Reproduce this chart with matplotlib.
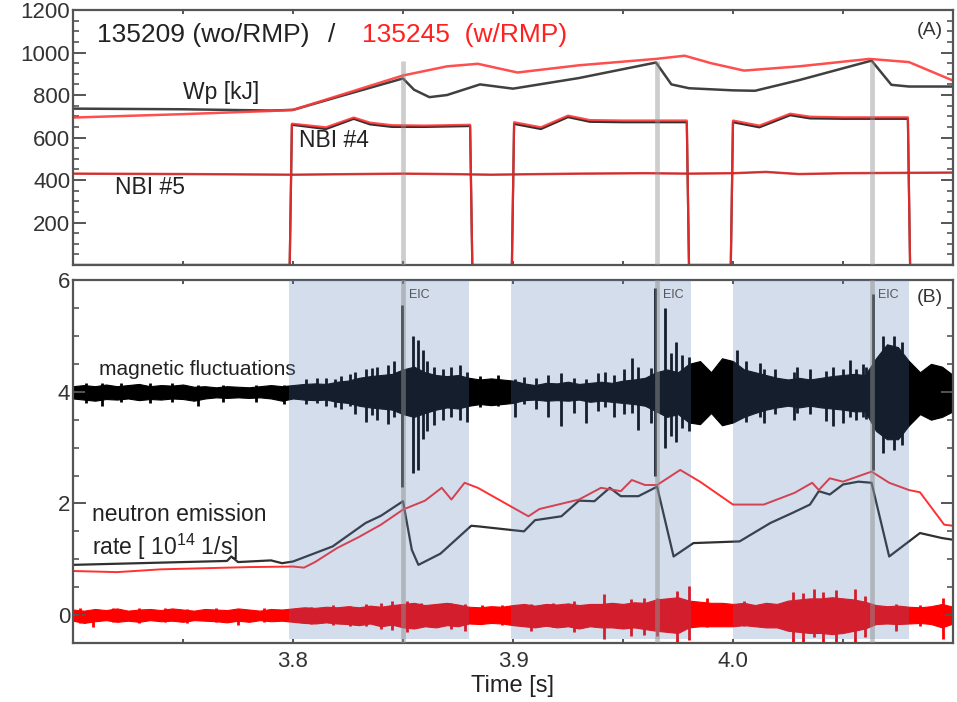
import matplotlib.pyplot as plt

plt.rcParams['font.family'] = ['Liberation Sans', 'DejaVu Sans']
plt.rcParams['mathtext.fontset'] = 'custom'
plt.rcParams['mathtext.rm'] = 'Liberation Sans'

# ---- panel (A): stored energy and NBI power ----
wp_wo_t = [3.70, 3.75, 3.79, 3.80, 3.82, 3.85, 3.855, 3.862, 3.87, 3.885, 3.90, 3.93,
           3.965, 3.972, 3.98, 4.00, 4.01, 4.03, 4.063, 4.072, 4.08, 4.10]
wp_wo = [736, 733, 727, 730, 790, 878, 825, 790, 800, 850, 830, 880,
         953, 850, 832, 822, 820, 870, 962, 848, 840, 840]

wp_w_t = [3.70, 3.75, 3.79, 3.80, 3.85, 3.87, 3.884, 3.902, 3.93, 3.965, 3.978,
          3.99, 4.005, 4.03, 4.062, 4.08, 4.10]
wp_w = [694, 710, 725, 730, 892, 935, 947, 906, 940, 970, 985,
        950, 915, 935, 970, 955, 868]

nbi4_t = [3.70, 3.7985, 3.7995, 3.815, 3.8276, 3.835, 3.845, 3.86, 3.8805, 3.8815,
          3.8995, 3.9005, 3.9127, 3.925, 3.935, 3.95, 3.979, 3.980,
          3.9990, 4.0000, 4.012, 4.026, 4.035, 4.05, 4.0795, 4.0805, 4.10]
nbi4_w = [0, 0, 665, 648, 694, 670, 658, 656, 660, 0,
          0, 672, 648, 703, 682, 680, 680, 0,
          0, 680, 656, 712, 698, 695, 695, 0, 0]
nbi4_wo = [0, 0, 660, 640, 688, 662, 650, 650, 654, 0,
           0, 664, 640, 696, 674, 672, 672, 0,
           0, 672, 648, 705, 690, 688, 688, 0, 0]

nbi5_t = [3.70, 3.75, 3.80, 3.85, 3.87, 3.89, 3.93, 3.96, 3.98, 4.00, 4.015, 4.03, 4.05, 4.10]
nbi5_w = [430, 428, 425, 430, 428, 425, 430, 432, 430, 432, 438, 428, 432, 435]

# ---- panel (B): fluctuations and neutron rate ----
neut_wo_t = [3.70, 3.72, 3.75, 3.77, 3.772, 3.775, 3.79, 3.795, 3.80, 3.818, 3.833, 3.84,
             3.85, 3.854, 3.857, 3.867, 3.881, 3.884, 3.905, 3.91, 3.922, 3.93, 3.937,
             3.944, 3.949, 3.957, 3.9655, 3.973, 3.982, 4.003, 4.017, 4.027, 4.035,
             4.039, 4.044, 4.05, 4.057, 4.063, 4.071, 4.085, 4.095, 4.10]
neut_wo = [0.90, 0.92, 0.95, 0.97, 1.05, 0.95, 0.98, 0.93, 0.96, 1.23, 1.65, 1.78,
           2.04, 1.17, 0.90, 1.10, 1.60, 1.59, 1.50, 1.70, 1.77, 2.05, 2.04,
           2.28, 2.13, 2.13, 2.30, 1.05, 1.29, 1.32, 1.65, 1.83, 1.98,
           2.22, 2.16, 2.34, 2.39, 2.37, 1.05, 1.47, 1.38, 1.35]

neut_w_t = [3.70, 3.72, 3.74, 3.76, 3.78, 3.80, 3.805, 3.81, 3.82, 3.83, 3.84, 3.85,
            3.86, 3.8676, 3.872, 3.878, 3.884, 3.907, 3.912, 3.93, 3.94, 3.949, 3.954,
            3.96, 3.9655, 3.976, 3.985, 4.00, 4.014, 4.028, 4.036, 4.039, 4.044, 4.05,
            4.063, 4.071, 4.08, 4.085, 4.096, 4.10]
neut_w = [0.79, 0.77, 0.82, 0.84, 0.86, 0.87, 0.85, 0.95, 1.20, 1.40, 1.62, 1.89,
          2.05, 2.28, 2.07, 2.37, 2.28, 1.77, 1.90, 2.07, 2.28, 2.22, 2.42,
          2.33, 2.33, 2.60, 2.39, 1.98, 1.98, 2.19, 2.37, 2.24, 2.45, 2.39,
          2.57, 2.37, 2.24, 2.20, 1.62, 1.60]

# magnetic fluctuation envelope (135209), every 5 ms from 3.700 s
mag_t = [3.700 + 0.005 * i for i in range(81)]
mag_hi = [4.10, 4.12, 4.10, 4.13, 4.10, 4.12, 4.14, 4.10, 4.12, 4.11,
          4.13, 4.09, 4.10, 4.08, 4.10, 4.09, 4.08, 4.10, 4.12, 4.10,
          4.12, 4.14, 4.15, 4.14, 4.18, 4.20, 4.25, 4.28, 4.30, 4.32,
          4.40, 4.45, 4.35, 4.30, 4.28, 4.30, 4.25, 4.22, 4.24, 4.22,
          4.20, 4.15, 4.12, 4.16, 4.15, 4.18, 4.14, 4.16, 4.18, 4.16,
          4.20, 4.22, 4.25, 4.35, 4.40, 4.35, 4.50, 4.55, 4.35, 4.60,
          4.55, 4.40, 4.35, 4.30, 4.25, 4.22, 4.25, 4.22, 4.25, 4.28,
          4.30, 4.32, 4.30, 4.60, 4.85, 4.80, 4.55, 4.35, 4.50, 4.45, 4.30]
mag_lo = [3.88, 3.86, 3.84, 3.87, 3.86, 3.88, 3.85, 3.87, 3.86, 3.88,
          3.87, 3.84, 3.88, 3.90, 3.89, 3.90, 3.89, 3.90, 3.88, 3.84,
          3.88, 3.86, 3.85, 3.86, 3.82, 3.80, 3.75, 3.72, 3.70, 3.68,
          3.60, 3.55, 3.62, 3.68, 3.72, 3.70, 3.75, 3.78, 3.76, 3.78,
          3.80, 3.85, 3.86, 3.84, 3.85, 3.84, 3.86, 3.82, 3.84, 3.82,
          3.80, 3.78, 3.75, 3.65, 3.55, 3.60, 3.45, 3.42, 3.62, 3.40,
          3.45, 3.55, 3.62, 3.68, 3.72, 3.75, 3.72, 3.75, 3.72, 3.70,
          3.68, 3.65, 3.65, 3.30, 3.15, 3.15, 3.40, 3.60, 3.50, 3.55, 3.65]

mag_spike_t = [3.706, 3.713, 3.722, 3.735, 3.745, 3.757, 3.768, 3.783, 3.796,
               3.806, 3.811, 3.815, 3.819, 3.822, 3.826, 3.828, 3.833, 3.836, 3.838,
               3.843, 3.846, 3.8495, 3.8545, 3.857, 3.859, 3.861, 3.864, 3.868, 3.872,
               3.876, 3.879, 3.885, 3.893,
               3.9008, 3.905, 3.9105, 3.9158, 3.9219, 3.9279, 3.9332, 3.9385, 3.942,
               3.946, 3.9505, 3.954, 3.9566, 3.9626,
               3.9645, 3.969, 3.972, 3.974, 3.977, 3.980,
               4.0018, 4.006, 4.0124, 4.0139, 4.019, 4.0276, 4.029, 4.035, 4.0425,
               4.0456, 4.0501, 4.0531, 4.0561, 4.0591, 4.0606,
               4.0635, 4.068, 4.073, 4.077]
mag_spike_hi = [4.15, 4.15, 4.16, 4.15, 4.15, 4.12, 4.12, 4.12, 4.12,
                4.22, 4.25, 4.25, 4.22, 4.28, 4.32, 4.35, 4.40, 4.42, 4.45,
                4.48, 4.55, 5.55, 5.00, 4.92, 4.75, 4.55, 4.45, 4.40, 4.45,
                4.48, 4.35, 4.28, 4.30,
                4.22, 4.27, 4.25, 4.30, 4.33, 4.25, 4.22, 4.33, 4.35,
                4.30, 4.40, 4.60, 4.45, 4.42,
                5.85, 5.50, 4.70, 4.90, 4.65, 4.62,
                4.74, 4.55, 4.51, 4.40, 4.40, 4.35, 4.45, 4.40, 4.38,
                4.45, 4.40, 4.57, 4.40, 4.50, 4.45,
                5.75, 5.00, 5.00, 4.90]
mag_spike_lo = [3.80, 3.75, 3.82, 3.80, 3.82, 3.75, 3.82, 3.82, 3.78,
                3.78, 3.80, 3.75, 3.72, 3.70, 3.74, 3.60, 3.45, 3.58, 3.50,
                3.42, 3.55, 2.30, 2.55, 2.60, 3.15, 3.30, 3.40, 3.50, 3.55,
                3.50, 3.45, 3.72, 3.74,
                3.55, 3.78, 3.70, 3.55, 3.38, 3.62, 3.44, 3.65, 3.72,
                3.55, 3.60, 3.62, 3.32, 3.44,
                2.50, 3.00, 3.20, 3.10, 3.35, 3.30,
                3.50, 3.45, 3.55, 3.44, 3.60, 3.50, 3.62, 3.60, 3.48,
                3.38, 3.44, 3.55, 3.50, 3.55, 3.52,
                2.60, 2.90, 2.95, 3.05]

# magnetic fluctuation envelope (135245), centred on 0
rmp_hi = [0.10, 0.08, 0.11, 0.09, 0.12, 0.08, 0.10, 0.11, 0.09, 0.12,
          0.10, 0.08, 0.11, 0.10, 0.09, 0.12, 0.10, 0.08, 0.11, 0.10,
          0.12, 0.14, 0.13, 0.15, 0.14, 0.16, 0.14, 0.17, 0.15, 0.18,
          0.20, 0.22, 0.18, 0.20, 0.22, 0.19, 0.15, 0.14, 0.16, 0.15,
          0.18, 0.20, 0.17, 0.20, 0.19, 0.21, 0.18, 0.20, 0.20, 0.22,
          0.20, 0.23, 0.22, 0.28, 0.30, 0.32, 0.26, 0.24, 0.22, 0.22,
          0.20, 0.22, 0.18, 0.22, 0.20, 0.26, 0.28, 0.30, 0.30, 0.32,
          0.30, 0.28, 0.24, 0.18, 0.16, 0.17, 0.15, 0.14, 0.16, 0.20, 0.15]
rmp_lo = [-0.10, -0.14, -0.11, -0.09, -0.12, -0.10, -0.12, -0.09, -0.11, -0.10,
          -0.12, -0.09, -0.10, -0.11, -0.13, -0.10, -0.12, -0.09, -0.11, -0.10,
          -0.12, -0.14, -0.15, -0.13, -0.15, -0.16, -0.18, -0.15, -0.20, -0.17,
          -0.22, -0.24, -0.20, -0.22, -0.18, -0.20, -0.15, -0.16, -0.14, -0.15,
          -0.18, -0.20, -0.22, -0.19, -0.22, -0.20, -0.24, -0.20, -0.22, -0.22,
          -0.24, -0.22, -0.25, -0.28, -0.30, -0.32, -0.22, -0.20, -0.20, -0.20,
          -0.20, -0.18, -0.20, -0.22, -0.22, -0.28, -0.30, -0.32, -0.32, -0.34,
          -0.32, -0.28, -0.24, -0.16, -0.15, -0.16, -0.15, -0.14, -0.16, -0.22, -0.15]

rmp_spike_t = [3.703, 3.709, 3.718, 3.730, 3.742, 3.752, 3.765, 3.775, 3.787,
               3.808, 3.818, 3.826, 3.833, 3.840, 3.845, 3.852, 3.858, 3.866, 3.872,
               3.878, 3.886, 3.895,
               3.9083, 3.918, 3.9279, 3.9415, 3.9535, 3.9596, 3.9656, 3.9747, 3.9800,
               3.988, 4.005, 4.015, 4.0275, 4.032, 4.037, 4.041, 4.047, 4.0553, 4.060,
               4.0742, 4.085, 4.0953]
rmp_spike_hi = [0.12, 0.10, 0.13, 0.12, 0.12, 0.11, 0.12, 0.10, 0.12,
                0.15, 0.18, 0.17, 0.20, 0.22, 0.25, 0.25, 0.22, 0.20, 0.22,
                0.20, 0.18, 0.18,
                0.20, 0.22, 0.25, 0.37, 0.28, 0.30, 0.30, 0.43, 0.52,
                0.30, 0.25, 0.22, 0.42, 0.40, 0.46, 0.42, 0.45, 0.46, 0.35,
                0.20, 0.18, 0.31]
rmp_spike_lo = [-0.14, -0.22, -0.12, -0.15, -0.13, -0.14, -0.12, -0.18, -0.13,
                -0.16, -0.17, -0.20, -0.20, -0.24, -0.26, -0.30, -0.22, -0.22, -0.25,
                -0.28, -0.16, -0.18,
                -0.28, -0.22, -0.30, -0.43, -0.38, -0.35, -0.38, -0.52, -0.45,
                -0.22, -0.20, -0.20, -0.48, -0.52, -0.40, -0.55, -0.50, -0.52, -0.40,
                -0.28, -0.20, -0.42]

nbi_on = [(3.798, 3.880), (3.899, 3.981), (4.000, 4.080)]
eic_t = [3.850, 3.9656, 4.0633]

fig = plt.figure(figsize=(9.57, 7.02), dpi=100)
ax1 = fig.add_axes([0.0763, 0.6225, 0.9195, 0.3632])
ax2 = fig.add_axes([0.0763, 0.084, 0.9195, 0.517])

# panel A
ax1.plot(nbi5_t, nbi5_w, color='black', lw=1.0, alpha=0.6)
ax1.plot(nbi5_t, nbi5_w, color='#e02020', lw=1.8, alpha=0.8)
ax1.plot(nbi4_t, nbi4_wo, color='#303030', lw=1.6)
ax1.plot(nbi4_t, nbi4_w, color='#ff2a2a', lw=1.6, alpha=0.85)
ax1.plot(wp_wo_t, wp_wo, color='#404040', lw=1.8)
ax1.plot(wp_w_t, wp_w, color='#ff3b3b', lw=1.8, alpha=0.9)
ax1.vlines(eic_t, 0, 960, color='#909090', lw=3.4, alpha=0.45, zorder=6)

ax1.set_xlim(3.70, 4.10)
ax1.set_ylim(0, 1200)
ax1.set_yticks([200, 400, 600, 800, 1000, 1200])
ax1.set_yticks(range(0, 1201, 50), minor=True)
ax1.set_xticks([3.75, 3.8, 3.85, 3.9, 3.95, 4.0, 4.05])
ax1.tick_params(labelbottom=False)

ax1.text(0.027, 0.902, '135209 (wo/RMP)', transform=ax1.transAxes, fontsize=19,
         color='#222222', va='center')
ax1.text(0.290, 0.902, '/', transform=ax1.transAxes, fontsize=19,
         color='#222222', va='center')
ax1.text(0.328, 0.902, '135245  (w/RMP)', transform=ax1.transAxes, fontsize=19,
         color='#ff2020', va='center')
ax1.text(4.0955, 1103, '(A)', ha='right', va='center', fontsize=14, color='#333333')
ax1.text(3.750, 812, 'Wp [kJ]', va='center', fontsize=16.5, color='#222222')
ax1.text(3.8027, 586, 'NBI #4', va='center', fontsize=16.5, color='#222222')
ax1.text(3.719, 365, 'NBI #5', va='center', fontsize=16.5, color='#222222')

# panel B
ax2.fill_between(mag_t, mag_lo, mag_hi, color='black', lw=0.8)
ax2.vlines(mag_spike_t, mag_spike_lo, mag_spike_hi, color='black', lw=2.0)
ax2.fill_between(mag_t, rmp_lo, rmp_hi, color='#ff0000', lw=0.8)
ax2.vlines(rmp_spike_t, rmp_spike_lo, rmp_spike_hi, color='#ff0000', lw=2.0)
ax2.plot(neut_wo_t, neut_wo, color='#303030', lw=1.6)
ax2.plot(neut_w_t, neut_w, color='#ff3030', lw=1.4)

for t0, t1 in nbi_on:
    ax2.axvspan(t0, t1, ymin=0.01, ymax=1, color='#5078b4', alpha=0.25, lw=0, zorder=5)
for t in eic_t:
    ax2.axvline(t, color='#909090', lw=3.4, alpha=0.5, zorder=6)
    ax2.text(t + 0.0025, 5.73, 'EIC', fontsize=9, color='#555555', va='center', zorder=7)

ax2.set_xlim(3.70, 4.10)
ax2.set_ylim(-0.5, 6)
ax2.set_yticks([0, 2, 4, 6])
ax2.set_yticks([x * 0.5 for x in range(-1, 13)], minor=True)
ax2.set_xticks([3.8, 3.9, 4.0])
ax2.set_xticks([3.75, 3.85, 3.95, 4.05], minor=True)
ax2.set_xlabel('Time [s]', fontsize=17, color='#222222', labelpad=2)

ax2.text(4.0955, 5.69, '(B)', ha='right', va='center', fontsize=14, color='#333333', zorder=7)
ax2.text(3.712, 4.39, 'magnetic fluctuations', va='center', fontsize=15, color='#222222')
ax2.text(3.7086, 1.80, 'neutron emission', va='center', fontsize=16.5, color='#222222')
ax2.text(3.7086, 1.23, 'rate [ 10$^{14}$ 1/s]', va='center', fontsize=16.5, color='#222222')

for ax in (ax1, ax2):
    for s in ax.spines.values():
        s.set_color('#555555')
        s.set_linewidth(1.6)
    ax.tick_params(axis='y', which='major', direction='in', length=9, width=1.4,
                   color='#555555', right=True, labelsize=16, labelcolor='#333333', pad=2)
    ax.tick_params(axis='y', which='minor', direction='in', length=4.5, width=1.2,
                   color='#555555', right=True)
    ax.tick_params(axis='x', which='both', direction='in', length=3, width=1.4,
                   color='#555555', top=True, labelsize=16, labelcolor='#333333', pad=6)

fig.savefig('out.png', dpi=100)
